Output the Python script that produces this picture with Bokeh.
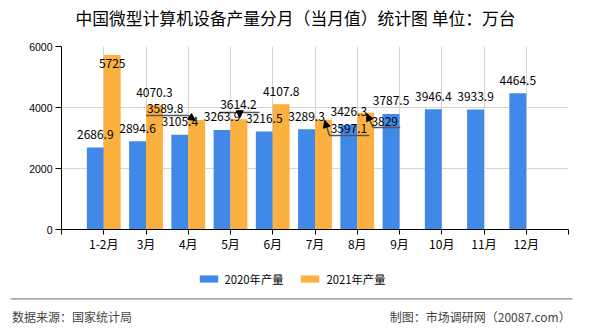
from bokeh.plotting import figure
from bokeh.layouts import column
from bokeh.models import (ColumnDataSource, Range1d, FixedTicker, LabelSet, Label,
                          Legend, LegendItem, Arrow, NormalHead)
from bokeh.core.properties import value
from bokeh.embed import file_html
from bokeh.resources import INLINE

# ---------------- data ----------------
categories = ["1-2月", "3月", "4月", "5月", "6月", "7月", "8月", "9月", "10月", "11月", "12月"]
prod_2020 = [2686.9, 2894.6, 3105.4, 3263.9, 3216.5, 3289.3, 3426.3, 3787.5, 3946.4, 3933.9, 4464.5]
prod_2021 = [5725, 4070.3, 3589.8, 3614.2, 4107.8, 3597.1, 3829, None, None, None, None]
y_ticks = [0, 2000, 4000, 6000]
series_names = ["2020年产量", "2021年产量"]
title_text = "中国微型计算机设备产量分月（当月值）统计图 单位：万台"
source_text = "数据来源：国家统计局"
maker_text = "制图：市场调研网（20087.com）"

# ---------------- style / geometry ----------------
W = 590
HEAD_H, MAIN_H, FOOT_H = 36, 224, 70
LEFT, RIGHT, TOP, BOTTOM = 61, 22, 10, 31
FW = W - LEFT - RIGHT
FH = MAIN_H - TOP - BOTTOM
X0, X1 = -1, 11
Y0, Y1 = 0, 6000
BLUE = "#4189e9"
ORANGE = "#fbb040"
FONT = "Noto Sans CJK SC"
BAR_W = 0.4

px_x = FW / (X1 - X0)
px_y = FH / (Y1 - Y0)

# label offsets (px, y up) relative to bar-top centre, for displaced labels
label_shift_2021 = {0: (0, -9), 2: (-31.5, 11.5), 3: (-0.5, 14.8), 5: (25.5, -8.7), 6: (19, -8.8)}
# leader lines (px, y up) relative to bar-top centre; last segment gets an arrowhead
leaders_2021 = {
    2: [(-50.5, 4.5), (-8.5, 4.5), (-1.5, -0.5)],
    3: [(-19.5, 6.8), (20.5, 6.8)],
    5: [(46, -15.7), (6, -15.7), (1.3, -0.7)],
    6: [(34.5, -14.8), (7.5, -14.8), (1.2, -1.1)],
}
arrow_5 = [(0.8, 6.8), (0.8, 1.5)]

idx = list(range(len(categories)))
nan = float("nan")
v21 = [nan if v is None else v for v in prod_2021]

src20 = ColumnDataSource(dict(x=[i - BAR_W / 2 for i in idx], top=prod_2020,
                              txt=[f"{v:g}" for v in prod_2020],
                              dx=[0] * len(idx), dy=[13] * len(idx)))
lab21_x, lab21_y, lab21_t, lab21_dx, lab21_dy = [], [], [], [], []
for i, v in zip(idx, prod_2021):
    if v is None:
        continue
    dx, dy = label_shift_2021.get(i, (0, 13))
    lab21_x.append(i + BAR_W / 2)
    lab21_y.append(v)
    lab21_t.append(f"{v:g}")
    lab21_dx.append(dx)
    lab21_dy.append(dy)
src21 = ColumnDataSource(dict(x=[i + BAR_W / 2 for i in idx], top=v21))
lab21 = ColumnDataSource(dict(x=lab21_x, top=lab21_y, txt=lab21_t, dx=lab21_dx, dy=lab21_dy))


def blank(h):
    f = figure(width=W, height=h, output_backend="svg", toolbar_location=None,
               x_range=Range1d(0, W), y_range=Range1d(h, 0),
               x_axis_type=None, y_axis_type=None, min_border=0, frame_align=False)
    f.outline_line_color = None
    f.xgrid.visible = False
    f.ygrid.visible = False
    f.background_fill_color = "white"
    f.border_fill_color = "white"
    return f


# ---------------- header ----------------
head = blank(HEAD_H)
head.add_layout(Label(x=W / 2, y=17.5, text=title_text, text_align="center",
                      text_baseline="middle", text_font=FONT, text_font_size="16.8px",
                      text_color="black"))

# ---------------- main chart ----------------
p = figure(width=W, height=MAIN_H, output_backend="svg", toolbar_location=None,
           x_range=Range1d(X0, X1), y_range=Range1d(Y0, Y1),
           min_border_left=LEFT, min_border_right=RIGHT,
           min_border_top=TOP, min_border_bottom=BOTTOM, frame_align=False)
p.outline_line_color = None
p.background_fill_color = "white"
p.border_fill_color = "white"

r20 = p.vbar(x="x", top="top", width=BAR_W, source=src20, fill_color=BLUE, line_color=None)
r21 = p.vbar(x="x", top="top", width=BAR_W, source=src21, fill_color=ORANGE, line_color=None)

xa = p.xaxis[0]
xa.ticker = FixedTicker(ticks=list(range(X0, X1 + 1)))
overrides = {i: c for i, c in zip(idx, categories)}
overrides[X0] = ""
overrides[X1] = ""
xa.major_label_overrides = overrides
xa.major_tick_out = 5
xa.major_tick_in = 0
xa.minor_tick_out = 0
xa.minor_tick_in = 0
xa.axis_line_color = "black"
xa.major_tick_line_color = "black"
xa.major_label_text_font = FONT
xa.major_label_text_font_size = "12px"
xa.major_label_text_color = "black"
xa.major_label_standoff = 0

ya = p.yaxis[0]
ya.ticker = FixedTicker(ticks=y_ticks)
ya.major_tick_out = 6
ya.major_tick_in = 0
ya.minor_tick_out = 0
ya.minor_tick_in = 0
ya.axis_line_color = "black"
ya.major_tick_line_color = "black"
ya.major_label_text_font = "Liberation Sans"
ya.major_label_text_font_size = "10.5px"
ya.major_label_text_color = "black"
ya.major_label_standoff = 3

p.xgrid.ticker = FixedTicker(ticks=list(range(0, X1 + 1)))
p.ygrid.ticker = FixedTicker(ticks=y_ticks)
for g in (p.xgrid[0], p.ygrid[0]):
    g.grid_line_color = "#d4d4d4"
    g.grid_line_width = 1

for s in (src20, lab21):
    p.add_layout(LabelSet(x="x", y="top", text="txt", source=s, x_offset="dx", y_offset="dy",
                          text_align="center", text_baseline="middle",
                          text_font=value(FONT), text_font_size="12px", text_color="black"))


def to_data(i, v, pt):
    return (i + BAR_W / 2 + pt[0] / px_x, v + pt[1] / px_y)


def head_arrow(a, b):
    p.add_layout(Arrow(x_start=a[0], y_start=a[1], x_end=b[0], y_end=b[1], line_alpha=0,
                       end=NormalHead(size=7, fill_color="black", line_color="black")))


for i, pts in leaders_2021.items():
    v = prod_2021[i]
    dpts = [to_data(i, v, q) for q in pts]
    p.line([q[0] for q in dpts], [q[1] for q in dpts], line_color="#555555", line_width=1.5)
    if len(dpts) >= 3:
        head_arrow(dpts[-2], dpts[-1])
head_arrow(*[to_data(3, prod_2021[3], q) for q in arrow_5])

# ---------------- footer ----------------
foot = blank(FOOT_H)
# legend proxies (one point placed off-canvas so the swatches get drawn)
d20 = foot.vbar(x=[-100], top=[0], width=1, fill_color=BLUE, line_color=None)
d21 = foot.vbar(x=[-100], top=[0], width=1, fill_color=ORANGE, line_color=None)
legend = Legend(items=[LegendItem(label=series_names[0], renderers=[d20]),
                       LegendItem(label=series_names[1], renderers=[d21])],
                orientation="horizontal", location=(196.5, 43.5),
                glyph_width=23, glyph_height=9, label_standoff=5, spacing=15,
                padding=0, margin=0, label_height=9,
                label_text_font=FONT, label_text_font_size="11.3px", label_text_color="black",
                border_line_alpha=0, background_fill_alpha=0)
foot.add_layout(legend, "center")
foot.segment(x0=[10], x1=[572], y0=[38.3], y1=[38.3], line_color="#888888", line_width=1.2)
foot.add_layout(Label(x=11.5, y=56, text=source_text, text_align="left", text_baseline="middle",
                      text_font=FONT, text_font_size="12px", text_color="#444444"))
foot.add_layout(Label(x=570, y=56, text=maker_text, text_align="right", text_baseline="middle",
                      text_font=FONT, text_font_size="12px", text_color="#444444"))

layout = column(head, p, foot, spacing=0)
open("out.html", "w").write(file_html(layout, INLINE))
